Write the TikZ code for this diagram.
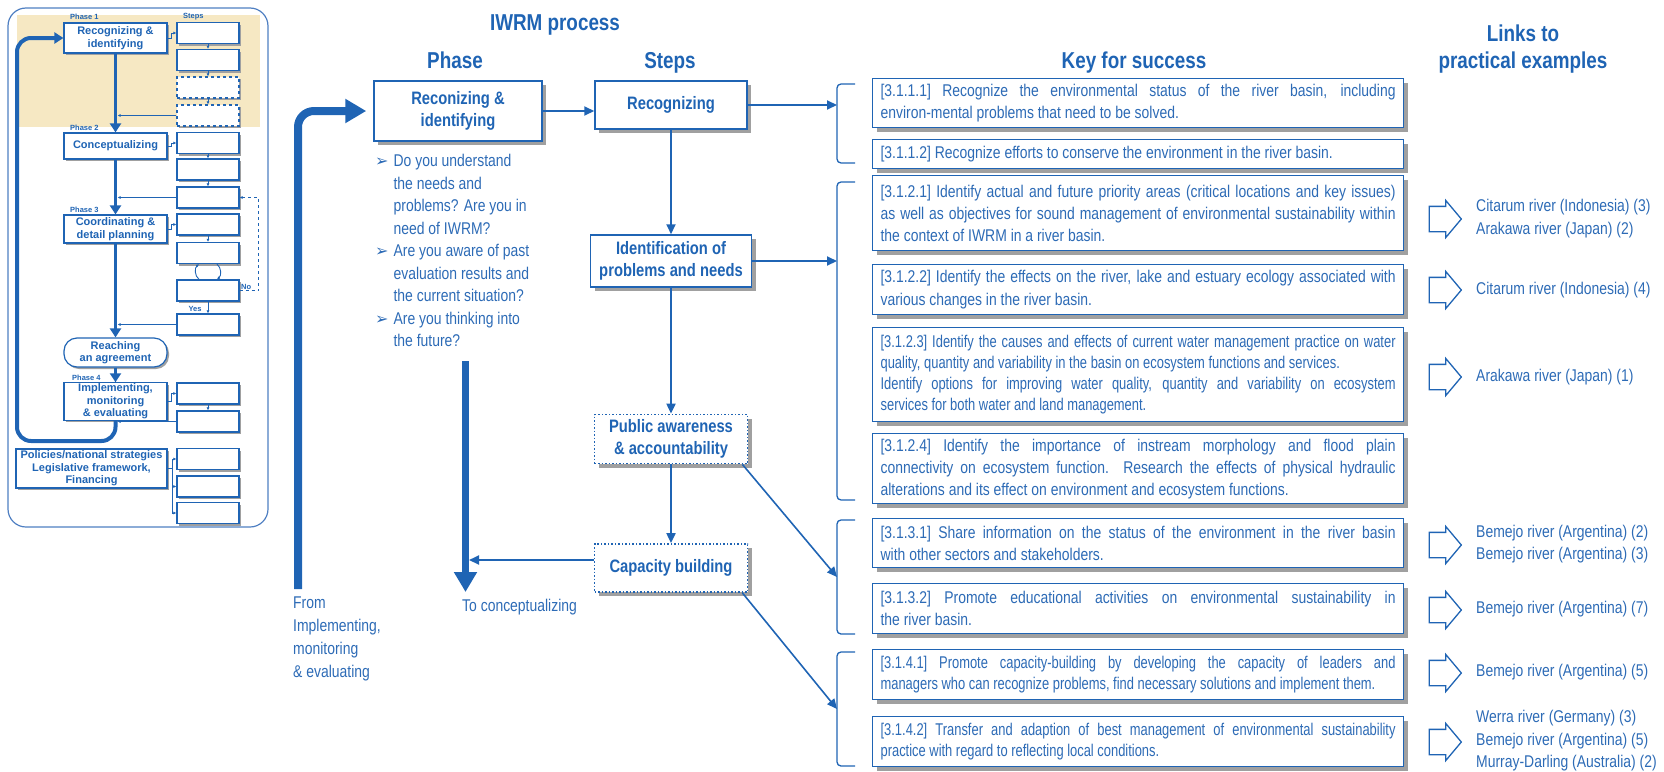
\documentclass[tikz,border=0pt]{standalone}
\usepackage{fontspec}
\setmainfont{Liberation Sans}[FakeStretch=0.82]
\newfontfamily\narrowfont{Liberation Sans}[FakeStretch=0.76]
\newfontfamily\thumbfont{Liberation Sans}
\newfontfamily\arrowfont{DejaVu Sans}
\usetikzlibrary{positioning,arrows.meta,shapes.arrows,shadows}
\definecolor{IWBlue}{HTML}{1F64B4}
\definecolor{IWText}{HTML}{2D6BB6}
\definecolor{IWFrame}{HTML}{4F7FC2}
\definecolor{IWShadow}{HTML}{A0A0A0}
\definecolor{IWTan}{HTML}{F6E8C3}

\newcommand\keytxt{\fontsize{17}{22}\selectfont\parindent=0pt\tolerance=10000\hyphenpenalty=10000\exhyphenpenalty=10000}
\newcommand\keytxtn{\narrowfont\keytxt\fontsize{17}{21}\selectfont}
\newcommand\qbul{{\arrowfont\fontsize{16}{22.5}\selectfont ➢}}

\tikzset{
  phasebox/.style={draw=IWBlue, line width=1.5pt, fill=white, text=IWBlue, align=center,
    font=\bfseries\fontsize{18}{21.5}\selectfont, inner sep=2pt,
    drop shadow={shadow xshift=4pt, shadow yshift=-4pt, fill=IWShadow, opacity=1}},
  stepdot/.style={phasebox, dotted, line width=1.8pt},
  keybox/.style={draw=IWBlue, line width=1.2pt, fill=white, text=IWText, anchor=north west,
    text width=515pt, inner xsep=8pt, inner ysep=3pt, align=justify, font=\keytxt,
    drop shadow={shadow xshift=4pt, shadow yshift=-4pt, fill=IWShadow, opacity=1}},
  linkarr/.style={single arrow, draw=IWBlue, line width=1.3pt, fill=white,
    inner xsep=0pt, inner ysep=12pt, minimum height=32pt, single arrow head extend=6pt,
    single arrow tip angle=100},
  linktxt/.style={anchor=west, text=IWText, align=left, inner sep=0pt,
    font=\fontsize{17}{22.5}\selectfont},
  plain/.style={text=IWText, inner sep=0pt, font=\fontsize{17}{22.7}\selectfont},
  hdtxt/.style={text=IWBlue, inner sep=0pt, align=center, font=\bfseries\fontsize{23}{27}\selectfont},
  flow/.style={draw=IWBlue, line width=2pt, -{Triangle[length=10pt,width=9pt]}},
  bigflow/.style={draw=IWBlue, line width=8pt, -{Triangle[length=21pt,width=23pt]}},
  downflow/.style={draw=IWBlue, line width=7pt, -{Triangle[length=20pt,width=22pt]}},
  brk/.style={draw=IWBlue, line width=1.3pt, rounded corners=4pt},
  % small overview on the left
  tbox/.style={draw=IWBlue, line width=1.2pt, fill=white, text=IWBlue, align=center,
    font=\thumbfont\bfseries\fontsize{11}{12.5}\selectfont, inner sep=1pt,
    drop shadow={shadow xshift=2pt, shadow yshift=-2pt, fill=IWShadow, opacity=1}},
  tstep/.style={tbox, minimum width=62pt, minimum height=21pt},
  tstepd/.style={tstep, dashed},
  tlab/.style={text=IWBlue, inner sep=0pt, font=\thumbfont\bfseries\fontsize{7.5}{8}\selectfont},
  tflow/.style={draw=IWBlue, line width=0.9pt, -{Latex[length=3pt,width=3pt]}},
  tspine/.style={draw=IWBlue, line width=3.5pt, -{Triangle[length=9pt,width=11pt]}},
}

\begin{document}
\begin{tikzpicture}[x=1pt,y=-1pt]
  \useasboundingbox (0,0) rectangle (1664,771);

  % overview thumbnail
  \fill[IWTan] (17,15) rectangle (260,127);
  \draw[IWFrame, line width=1.2pt, rounded corners=18pt] (8,8) rectangle (268,527);

  \node[tlab, anchor=west] (tlP1) at (70,17) {Phase 1};
  \node[tlab, anchor=west] (tlSteps) at (183,17) {Steps};
  \node[tlab, anchor=west] (tlP2) at (70,128) {Phase 2};
  \node[tlab, anchor=west] (tlP3) at (70,210) {Phase 3};
  \node[tlab, anchor=west] (tlP4) at (72,378) {Phase 4};

  \node[tbox, minimum width=103pt, minimum height=30pt] (tp1) at (115.5,38) {Recognizing \&\\identifying};
  \node[tbox, minimum width=103pt, minimum height=26pt] (tp2) at (115.5,146) {Conceptualizing};
  \node[tbox, minimum width=103pt, minimum height=28pt] (tp3) at (115.5,229) {Coordinating \&\\detail planning};
  \node[tbox, rounded corners=13pt, minimum width=103pt, minimum height=29pt] (tagr) at (115.5,352.5) {Reaching\\an agreement};
  \node[tbox, minimum width=103pt, minimum height=37pt] (tp4) at (115.5,401.5) {Implementing,\\monitoring\\\& evaluating};
  \node[tbox, minimum width=151pt, minimum height=39pt] (tpol) at (91.5,468.5) {Policies/national strategies\\Legislative framework,\\Financing};

  \foreach \i/\y/\sty in {1/33/tstep, 2/60/tstep, 3/87.5/tstepd, 4/115.5/tstepd,
      5/143/tstep, 6/169.5/tstep, 7/197.5/tstep, 8/224.5/tstep, 9/253/tstep,
      10/290.5/tstep, 11/324.5/tstep, 12/393.5/tstep, 13/421.5/tstep,
      14/459/tstep, 15/486.5/tstep, 16/513/tstep}
    \node[\sty] (ts\i) at (208,\y) {};

  \draw[tspine] (tp1.south) -- (tp2.north);
  \draw[tspine] (tp2.south) -- (tp3.north);
  \draw[tspine] (tp3.south) -- (tagr.north);
  \draw[tspine] (tagr.south) -- (tp4.north);
  \coordinate (tlow) at (17,441);
  \draw[IWBlue, line width=4pt, rounded corners=14pt, -{Triangle[length=9pt,width=11pt]}]
    (tp4.south) |- (tlow) |- (tp1.west);

  \foreach \p/\s in {tp1/1, tp2/5, tp3/8, tp4/12}
    \draw[tflow] (\p.east) -- ++(4,0) |- (ts\s.west);
  \foreach \a/\b in {1/2, 2/3, 3/4, 5/6, 6/7, 8/9, 10/11, 12/13}
    \draw[tflow] (ts\a.south) -- (ts\b.north);
  \foreach \s in {4, 7, 11, 13}
    \draw[tflow, shorten >=2pt] (ts\s.west) -- (ts\s.west -| tp1.south);
  \foreach \s in {14, 15, 16}
    \draw[tflow] (tpol.east) -- ++(5,0) |- (ts\s.west);
  \draw[tflow] ([xshift=-9pt]ts10.north) to[bend left=50] ([xshift=-9pt]ts9.south);
  \draw[tflow] ([xshift=9pt]ts9.south) to[bend left=50] ([xshift=9pt]ts10.north);
  \draw[tflow, dashed] (ts10.east) -- ++(19,0) |- (ts7.east);
  \node[tlab, anchor=south west] (tlNo) at (241,290) {No};
  \node[tlab] (tlYes) at (195,309) {Yes};

  % headings
  \node[hdtxt, anchor=base] (hdIWRM) at (555,30) {IWRM process};
  \node[hdtxt, anchor=base] (hdPhase) at (455,68) {Phase};
  \node[hdtxt, anchor=base] (hdSteps) at (670,68) {Steps};
  \node[hdtxt, anchor=base] (hdKey) at (1134,68) {Key for success};
  \node[hdtxt, anchor=north] (hdLinks) at (1523,25) {Links to\\practical examples};

  % phase and steps
  \node[phasebox, minimum width=168pt, minimum height=60pt] (phs) at (458,111) {Reconizing \&\\identifying};
  \node[phasebox, minimum width=152pt, minimum height=48pt] (stRec) at (671,105) {Recognizing};
  \node[phasebox, minimum width=161pt, minimum height=52pt] (stIdn) at (671,261) {Identification of\\problems and needs};
  \node[stepdot, minimum width=153pt, minimum height=49pt] (stPub) at (671,439) {Public awareness\\\& accountability};
  \node[stepdot, minimum width=153pt, minimum height=48pt] (stCap) at (671,568) {Capacity building};

  \node[plain, anchor=north west] (qst) at (375,151) {\fontsize{17}{22.5}\selectfont
    \begin{tabular}{@{}l@{\hspace{5pt}}l@{}}
      \qbul & Do you understand\\
            & the needs and\\
            & problems? Are you in\\
            & need of IWRM?\\
      \qbul & Are you aware of past\\
            & evaluation results and\\
            & the current situation?\\
      \qbul & Are you thinking into\\
            & the future?
    \end{tabular}};
  \node[plain, anchor=north west, align=left] (frmImp) at (293,597) {From\\Implementing,\\monitoring\\\& evaluating};
  \node[plain, anchor=base west] (toCon) at (462,611) {To conceptualizing};

  \coordinate (fromI) at (298,589);
  \coordinate (dnTop) at (465.5,361);
  \coordinate (dnEnd) at (465.5,592);
  \draw[bigflow, rounded corners=16pt, shorten >=7pt] (fromI) |- (phs.west);
  \draw[downflow] (dnTop) -- (dnEnd);

  \draw[flow] (phs.east) -- (phs.east -| stRec.west);
  \draw[flow] (stRec.south) -- (stRec.south |- stIdn.north);
  \draw[flow] (stIdn.south) -- (stIdn.south |- stPub.north);
  \draw[flow] (stPub.south) -- (stPub.south |- stCap.north);
  \draw[flow, shorten >=3.5pt] ([yshift=8pt]stCap.west) -- ([yshift=8pt]stCap.west -| dnTop);

  % brackets in front of the keys
  \foreach \n/\t/\b in {1/84/163, 2/182/500, 3/520/634, 4/652/766} {
    \draw[brk] (855,\t) -- (837,\t) -- (837,\b) -- (855,\b);
    \coordinate (br\n) at (837,{(\t+\b)/2});
  }
  \draw[flow] (stRec.east) -- (stRec.east -| br1);
  \draw[flow] (stIdn.east) -- (stIdn.east -| br2);
  \draw[flow, line width=1.6pt] ([xshift=-6pt]stPub.south east) -- (br3);
  \draw[flow, line width=1.6pt] ([xshift=-6pt]stCap.south east) -- (br4);

  % keys for success
  \node[keybox, minimum height=49pt] (k1111) at (872,78) {[3.1.1.1] Recognize the environmental status of the river basin, including\linebreak environ-mental problems that need to be solved.};
  \node[keybox, minimum height=29pt] (k1112) at (872,139) {[3.1.1.2] Recognize efforts to conserve the environment in the river basin.};
  \node[keybox, minimum height=75pt] (k1121) at (872,175) {[3.1.2.1] Identify actual and future priority areas (critical locations and key issues)\linebreak as well as objectives for sound management of environmental sustainability within\linebreak the context of IWRM in a river basin.};
  \node[keybox, minimum height=50pt] (k1122) at (872,264) {[3.1.2.2] Identify the effects on the river, lake and estuary ecology associated with\linebreak various changes in the river basin.};
  \node[keybox, font=\keytxtn, minimum height=94pt] (k1123) at (872,327) {[3.1.2.3] Identify the causes and effects of current water management practice on water\linebreak quality, quantity and variability in the basin on ecosystem functions and services.\\Identify options for improving water quality, quantity and variability on ecosystem\linebreak services for both water and land management.};
  \node[keybox, minimum height=70pt] (k1124) at (872,433) {[3.1.2.4] Identify the importance of instream morphology and flood plain\linebreak connectivity on ecosystem function. Research the effects of physical hydraulic\linebreak alterations and its effect on environment and ecosystem functions.};
  \node[keybox, minimum height=49pt] (k1131) at (872,518) {[3.1.3.1] Share information on the status of the environment in the river basin\linebreak with other sectors and stakeholders.};
  \node[keybox, minimum height=50pt] (k1132) at (872,583) {[3.1.3.2] Promote educational activities on environmental sustainability in\linebreak the river basin.};
  \node[keybox, font=\keytxtn, minimum height=50pt] (k1141) at (872,649) {[3.1.4.1] Promote capacity-building by developing the capacity of leaders and\linebreak managers who can recognize problems, find necessary solutions and implement them.};
  \node[keybox, font=\keytxtn, minimum height=50pt] (k1142) at (872,716) {[3.1.4.2] Transfer and adaption of best management of environmental sustainability\linebreak practice with regard to reflecting local conditions.};

  % links to practical examples
  \foreach \n/\y in {1/219, 2/290, 3/377, 4/545, 5/610, 6/673, 7/742}
    \node[linkarr] (lk\n) at (1440,\y) {};
  \node[linktxt] (ex1) at (1476,218.5) {Citarum river (Indonesia) (3)\\Arakawa river (Japan) (2)};
  \node[linktxt] (ex2) at (1476,290) {Citarum river (Indonesia) (4)};
  \node[linktxt] (ex3) at (1476,377) {Arakawa river (Japan) (1)};
  \node[linktxt] (ex4) at (1476,544) {Bemejo river (Argentina) (2)\\Bemejo river (Argentina) (3)};
  \node[linktxt] (ex5) at (1476,609) {Bemejo river (Argentina) (7)};
  \node[linktxt] (ex6) at (1476,672) {Bemejo river (Argentina) (5)};
  \node[linktxt] (ex7) at (1476,741) {Werra river (Germany) (3)\\Bemejo river (Argentina) (5)\\Murray-Darling (Australia) (2)};
\end{tikzpicture}
\end{document}
